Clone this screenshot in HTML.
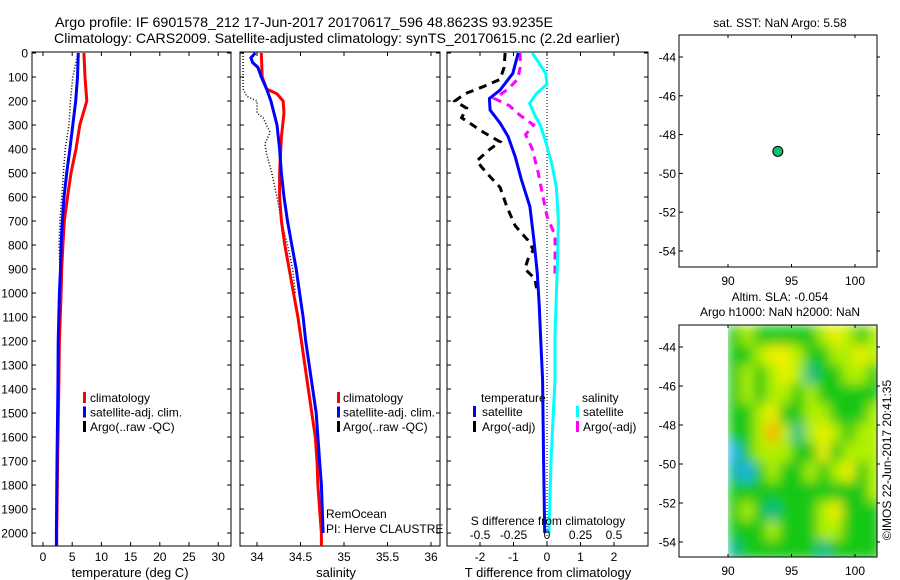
<!DOCTYPE html>
<html><head><meta charset="utf-8"><style>
body{margin:0;background:#fff}
svg{display:block;font-family:"Liberation Sans",sans-serif}
</style></head><body>
<svg id="c" width="900" height="580" viewBox="0 0 900 580" xmlns="http://www.w3.org/2000/svg">
<defs>
<filter id="bl" x="0" y="0" width="1" height="1"><feGaussianBlur stdDeviation="6" edgeMode="duplicate"/></filter>
<clipPath id="hc"><rect x="727" y="325" width="150" height="232"/></clipPath>
</defs>
<rect width="900" height="580" fill="#fff"/>
<text x="55" y="27" font-size="14" textLength="498" lengthAdjust="spacingAndGlyphs">Argo profile: IF 6901578_212 17-Jun-2017 20170617_596 48.8623S 93.9235E</text>
<text x="54" y="43" font-size="14" textLength="566" lengthAdjust="spacingAndGlyphs">Climatology: CARS2009. Satellite-adjusted climatology: synTS_20170615.nc (2.2d earlier)</text>
<g id="g"></g>
</svg>
<script>
// ---- data ----
const tDepth=[0,100,200,300,400,500,600,700,800,900,1000,1200,1400,1700,2000,2054];
const tClim=[7.0,7.2,7.5,6.3,5.65,4.8,4.2,3.65,3.4,3.2,3.1,2.8,2.7,2.5,2.35,2.35];
const tSat=[6.05,5.9,5.6,5.1,4.6,4.05,3.6,3.3,3.1,3.0,2.8,2.6,2.55,2.4,2.3,2.3];
const tArgoDepth=[0,100,200,300,400,500,600,700,800,900,1000,1200,1400,1700,2000];
const tArgo=[6.0,5.1,4.7,4.45,3.8,3.5,3.2,2.9,2.75,2.9,2.8,2.6,2.55,2.4,2.3];
const sClimDepth=[0,100,150,170,200,250,350,500,600,700,800,900,1000,1100,1200,1400,1500,1600,1700,1800,1900,2000,2054];
const sClim=[34.05,34.06,34.11,34.23,34.30,34.31,34.28,34.26,34.26,34.28,34.32,34.37,34.42,34.47,34.51,34.59,34.63,34.67,34.69,34.70,34.72,34.74,34.74];
const sSatDepth=[0,20,40,60,100,150,200,300,400,500,600,700,800,900,1000,1100,1200,1400,1500,1600,1700,1800,2000];
const sSat=[33.98,33.93,33.95,34.01,34.05,34.11,34.16,34.23,34.26,34.28,34.31,34.35,34.40,34.45,34.49,34.53,34.56,34.64,34.68,34.70,34.72,34.74,34.76];
const sArgoDepth=[0,150,180,200,250,270,330,380,420,500,600,700,800,900,1000];
const sArgo=[33.84,33.84,33.88,34.0,34.0,34.07,34.15,34.09,34.11,34.17,34.23,34.28,34.35,34.41,34.44];
const dTSatDepth=[0,85,154,190,238,292,348,432,529,640,779,918,1057,1182,1363,1700,2000];
const dTSat=[-0.86,-1.02,-1.40,-1.72,-1.70,-1.40,-1.16,-0.95,-0.76,-0.51,-0.39,-0.29,-0.23,-0.19,-0.13,-0.1,-0.07];
const dSSatDepth=[0,50,85,130,170,210,260,300,370,460,560,700,850,1000,1180,1363,1500,1700,2000];
const dSSat=[-0.11,-0.05,-0.01,0.0,-0.08,-0.13,-0.09,-0.05,-0.01,0.035,0.07,0.085,0.08,0.07,0.06,0.06,0.047,0.03,0.015];
const dSArgoDepth=[0,60,110,150,190,220,260,300,340,400,500,600,680,760,850,920];
const dSArgo=[-0.2,-0.2,-0.22,-0.29,-0.39,-0.28,-0.2,-0.10,-0.16,-0.11,-0.065,-0.03,0.0,0.06,0.06,0.06];
const dTArgoDepth=[0,60,110,140,170,200,230,270,330,370,400,450,500,560,640,720,780,820,860,900,940,980];
const dTArgo=[-1.25,-1.28,-1.40,-1.9,-2.45,-2.75,-2.4,-2.55,-1.9,-1.40,-1.70,-2.1,-1.8,-1.4,-1.2,-0.95,-0.57,-0.41,-0.57,-0.66,-0.36,-0.31];
const depthTicks=[0,100,200,300,400,500,600,700,800,900,1000,1100,1200,1300,1400,1500,1600,1700,1800,1900,2000];
const tTicks=[0,5,10,15,20,25,30];
const sTicks=[34,34.5,35,35.5,36];
const dTTicks=[-2,-1,0,1,2];
const dSTicks=[-0.5,-0.25,0,0.25,0.5];
const sDLabels=["-0.5","-0.25","0","0.25","0.5"];
const latTicks=[-44,-46,-48,-50,-52,-54];
const lonTicks=[90,95,100];
const argoLon=93.9235, argoLat=-48.8623;
const slaLats=[-43.4,-44.4,-45.4,-46.4,-47.4,-48.4,-49.4,-50.4,-51.4,-52.4,-53.4,-54.4];
const slaLons=[90,91,92,93,94,95,96,97,98,99,100,101];
const slaRows=[
[2,3,2,2,2,2,2,3,4,3,2,3],
[2,2,3,4,4,3,2,2,3,3,4,3],
[2,3,2,3,4,3,1,2,2,3,3,2],
[2,3,2,3,3,2,3,2,2,2,2,2],
[2,2,3,4,2,2,3,3,2,2,2,3],
[2,2,3,5,3,1,3,4,3,2,3,3],
[0,2,3,3,3,2,2,4,2,3,3,3],
[1,0,2,3,2,2,3,2,3,4,2,3],
[2,2,2,2,2,2,2,2,2,2,2,3],
[2,3,2,1,2,2,2,3,4,2,2,2],
[2,2,2,3,2,2,2,3,3,2,2,2],
[1,2,2,2,2,2,2,1,2,2,2,2]];
const slaColors=["#22b0f0","#10b890","#18c818","#b0f000","#f0f000","#ffb000"];

// ---- scales ----
const NS="http://www.w3.org/2000/svg";
const G=document.getElementById('g');
function el(t,a,p){const e=document.createElementNS(NS,t);for(const k in a)e.setAttribute(k,a[k]);(p||G).appendChild(e);return e;}
const yD=d=>53+d*0.24;
const xT=t=>43+t*5.84;
const xS=s=>257+(s-34)*87;
const xDT=t=>547+t*33.5;
const xDS=s=>547+s*134;
const mxLon=l=>728+(l-90)*12.7;
const m1Lat=l=>57+(-44-l)*19.4;
const m2Lat=l=>347+(-44-l)*19.5;

function line(xs,ds,fx,col,w,dash,name){
  const pts=xs.map((v,i)=>fx(v).toFixed(1)+','+yD(ds[i]).toFixed(1)).join(' ');
  const e=el('polyline',{points:pts,fill:'none',stroke:col,'stroke-width':w});
  if(dash)e.setAttribute('stroke-dasharray',dash);
  
  
}
function frame(x0,x1,name,xticks,fx,labels,ylabels){
  const f=el('rect',{x:x0,y:52,width:x1-x0,height:494,fill:'none',stroke:'#000','stroke-width':1});
  
  
  depthTicks.forEach(d=>{
    el('line',{x1:x0,x2:x0+4,y1:yD(d),y2:yD(d),stroke:'#000'});
    el('line',{x1:x1,x2:x1-4,y1:yD(d),y2:yD(d),stroke:'#000'});
    if(ylabels){const t=el('text',{x:28,y:yD(d)+4.5,'font-size':12,'text-anchor':'end'});t.textContent=d;
      
      }
  });
  xticks.forEach((v,i)=>{
    el('line',{x1:fx(v),x2:fx(v),y1:52,y2:56,stroke:'#000'});
    el('line',{x1:fx(v),x2:fx(v),y1:546,y2:542,stroke:'#000'});
    if(labels){const t=el('text',{x:fx(v),y:561,'font-size':12,'text-anchor':'middle'});t.textContent=labels[i];
      
      }
  });
}
function txt(x,y,s,opt,name){const t=el('text',Object.assign({x:x,y:y,'font-size':12},opt||{}));t.textContent=s;
  
  return t;}
function mark(x,y,c){el('rect',{x:x,y:y-6,width:3,height:11,fill:c});}

// panel 1 temperature
frame(32,231,'temperature-panel',tTicks,xT,tTicks.map(String),true);
line(tArgo,tArgoDepth,xT,'#000',1.5,'1,2','temp-argo-line');
line(tClim,tDepth,xT,'#f00',3,null,'temp-climatology-line');
line(tSat,tDepth,xT,'#00f',3,null,'temp-satellite-line');
txt(130,577,'temperature (deg C)',{'text-anchor':'middle','font-size':13},'temperature-axis-title');
[['#f00','climatology'],['#00f','satellite-adj. clim.'],['#000','Argo(..raw -QC)']].forEach((r,i)=>{
  mark(83,398+i*14.5,r[0]);txt(90,402+i*14.5,r[1],{},'temp-legend-entry');});

// panel 2 salinity
frame(240,440,'salinity-panel',sTicks,xS,sTicks.map(String),false);
line(sArgo,sArgoDepth,xS,'#000',1.5,'1,2','sal-argo-line');
line(sClim,sClimDepth,xS,'#f00',3,null,'sal-climatology-line');
line(sSat,sSatDepth,xS,'#00f',3,null,'sal-satellite-line');
txt(336,577,'salinity',{'text-anchor':'middle','font-size':13},'salinity-axis-title');
[['#f00','climatology'],['#00f','satellite-adj. clim.'],['#000','Argo(..raw -QC)']].forEach((r,i)=>{
  mark(337,398+i*14.5,r[0]);txt(343,402+i*14.5,r[1],{},'sal-legend-entry');});
txt(326,518,'RemOcean',{},'project-label');
txt(326,533,'PI: Herve CLAUSTRE',{},'pi-label');

// panel 3 differences
frame(447,648,'difference-panel',dTTicks,xDT,dTTicks.map(String),false);
el('line',{x1:xDT(0),x2:xDT(0),y1:52,y2:546,stroke:'#000','stroke-dasharray':'1,2'});
line(dTArgo,dTArgoDepth,xDT,'#000',3,'8,6','dT-argo-line');
line(dSArgo,dSArgoDepth,xDS,'#f0f',3,'8,6','dS-argo-line');
line(dSSat,dSSatDepth,xDS,'#0ff',3,null,'dS-satellite-line');
line(dTSat,dTSatDepth,xDT,'#00f',3,null,'dT-satellite-line');
txt(548,525,'S difference from climatology',{'text-anchor':'middle'},'s-diff-axis-title');
dSTicks.forEach((v,i)=>txt(xDS(v),539,sDLabels[i],{'text-anchor':'middle'},'s-diff-tick-label'));
txt(548,577,'T difference from climatology',{'text-anchor':'middle','font-size':13},'t-diff-axis-title');
txt(481,402,'temperature',{},'legend-temperature-header');
txt(582,402,'salinity',{},'legend-salinity-header');
mark(473,412,'#00f');txt(482,416,'satellite',{},'legend-dT-satellite');
mark(473,427,'#000');txt(482,431,'Argo(-adj)',{},'legend-dT-argo');
mark(576,412,'#0ff');txt(583,416,'satellite',{},'legend-dS-satellite');
mark(576,427,'#f0f');txt(583,431,'Argo(-adj)',{},'legend-dS-argo');

// maps
function mapFrame(y0,y1,fy,name){
  const f=el('rect',{x:679,y:y0,width:198,height:y1-y0,fill:'none',stroke:'#000'});
  
  
  latTicks.forEach(l=>{el('line',{x1:679,x2:683,y1:fy(l),y2:fy(l),stroke:'#000'});
    el('line',{x1:877,x2:880,y1:fy(l),y2:fy(l),stroke:'#000'});
    txt(676,fy(l)+4.5,String(l),{'text-anchor':'end'},'lat-tick-label');});
  lonTicks.forEach(l=>{el('line',{x1:mxLon(l),x2:mxLon(l),y1:y0,y2:y0+3,stroke:'#000'});
    el('line',{x1:mxLon(l),x2:mxLon(l),y1:y1,y2:y1-3,stroke:'#000'});
    txt(mxLon(l),y1+18,String(l),{'text-anchor':'middle'},'lon-tick-label');});
}
// heatmap
const hg=el('g',{filter:'url(#bl)'},el('g',{'clip-path':'url(#hc)'}));
slaRows.forEach((row,r)=>row.forEach((v,c)=>{
  const x=mxLon(slaLons[c]),y=m2Lat(slaLats[r]+0.5);
  const e=el('rect',{x:x,y:y,width:12.7+0.6,height:19.5+0.6,fill:slaColors[v]},hg);
  
  
}));
mapFrame(35,267,m1Lat,'sst-map');
mapFrame(325,557,m2Lat,'sla-map');
const dot=el('circle',{cx:mxLon(argoLon),cy:m1Lat(argoLat),r:5,fill:'#10c070',stroke:'#000','stroke-width':1});


txt(780,27,'sat. SST: NaN Argo: 5.58',{'text-anchor':'middle'},'sst-map-title');
txt(780,301,'Altim. SLA: -0.054',{'text-anchor':'middle'},'sla-title');
txt(780,316,'Argo h1000: NaN h2000: NaN',{'text-anchor':'middle'},'sla-subtitle');
txt(0,0,'©IMOS 22-Jun-2017 20:41:35',{'text-anchor':'middle',transform:'translate(891,460) rotate(-90)'},'imos-timestamp');
</script>
</body></html>
